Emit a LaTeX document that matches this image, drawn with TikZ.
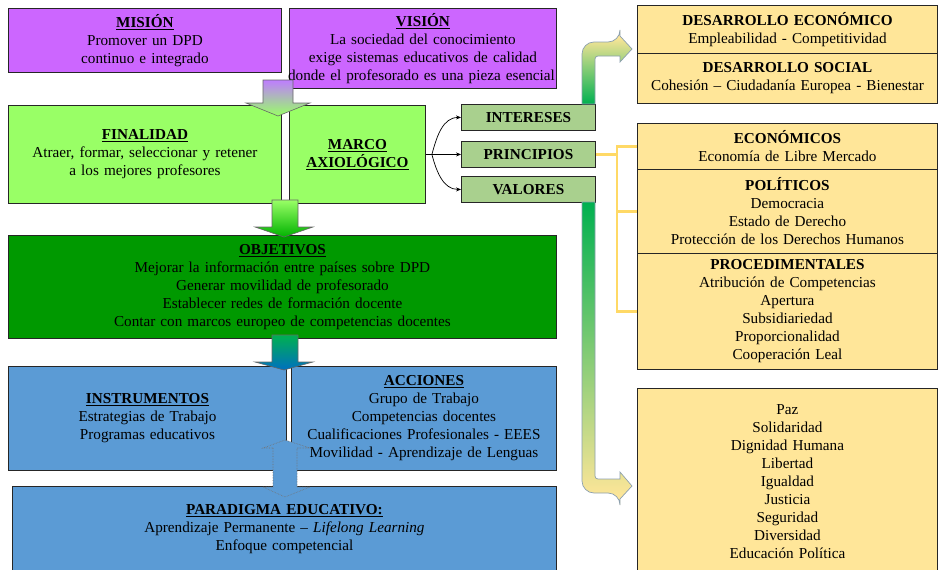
\documentclass[tikz,border=0pt]{standalone}
\usepackage{fontspec}
\setmainfont{Liberation Serif}
\usetikzlibrary{arrows.meta, positioning}

\definecolor{misionviolet}{RGB}{204,102,255}
\definecolor{lightgreen}{RGB}{153,255,102}
\definecolor{axiogreen}{RGB}{169,208,142}
\definecolor{objgreen}{RGB}{0,153,0}
\definecolor{acblue}{RGB}{91,155,213}
\definecolor{paleyellow}{RGB}{255,230,153}
\definecolor{goldline}{RGB}{255,217,102}
\definecolor{arrowgreen}{RGB}{0,176,80}
\definecolor{arrowblue}{RGB}{0,112,192}
\definecolor{arrowviolet}{RGB}{190,125,255}
\definecolor{arrowedge}{RGB}{140,160,175}

\newcommand{\panelfont}{\fontsize{15.2}{18}\selectfont}

\tikzset{
  panel/.style={draw=black!85, line width=0.9pt, align=center, inner sep=0pt, anchor=north west},
  tag/.style={panel, fill=axiogreen, text width=134pt, minimum height=26pt, font=\panelfont\bfseries},
  flow/.style={draw=black!60, line width=0.6pt},
  branch/.style={-{Stealth[length=5pt, width=4pt]}, line width=0.7pt},
  bracket/.style={goldline, line width=2.5pt},
}

\begin{document}
\begin{tikzpicture}[x=1pt, y=-1pt, every node/.style={font=\panelfont}]
    \useasboundingbox (0,0) rectangle (938,570);
    \clip (0,0) rectangle (938,570);

    % Left column
    \node[panel, fill=misionviolet, text width=273pt, minimum height=64pt] (mision) at (8,8)
        {\underline{\textbf{MISIÓN}}\\Promover un DPD\\continuo e integrado};
    \node[panel, fill=misionviolet, text width=267pt, minimum height=80pt] (vision) at (289,8)
        {\underline{\textbf{VISIÓN}}\\La sociedad del conocimiento\\exige sistemas educativos de calidad\\\mbox{\hspace*{-3pt}donde el profesorado es una pieza esencial}};
    \node[panel, fill=lightgreen, text width=273pt, minimum height=98pt] (finalidad) at (8,105)
        {\underline{\textbf{FINALIDAD}}\\Atraer, formar, seleccionar y retener\\a los mejores profesores};
    \node[panel, fill=lightgreen, text width=136pt, minimum height=98pt] (marco) at (289,105)
        {\underline{\textbf{MARCO}}\\\underline{\textbf{AXIOLÓGICO}}};
    \node[panel, fill=objgreen, text width=548pt, minimum height=103pt] (objetivos) at (8,235)
        {\underline{\textbf{OBJETIVOS}}\\Mejorar la información entre países sobre DPD\\Generar movilidad de profesorado\\Establecer redes de formación docente\\Contar con marcos europeo de competencias docentes};
    \node[panel, fill=acblue, text width=278pt, minimum height=104pt] (instrumentos) at (8,366)
        {\underline{\textbf{INSTRUMENTOS}}\\Estrategias de Trabajo\\Programas educativos};
    \node[panel, fill=acblue, text width=265pt, minimum height=104pt] (acciones) at (291,366)
        {\underline{\textbf{ACCIONES}}\\Grupo de Trabajo\\Competencias docentes\\Cualificaciones Profesionales - EEES\\Movilidad - Aprendizaje de Lenguas};
    \node[panel, fill=acblue, text width=544pt, minimum height=86pt] (paradigma) at (12,486)
        {\underline{\textbf{PARADIGMA EDUCATIVO:}}\\Aprendizaje Permanente -- \textit{Lifelong Learning}\\Enfoque competencial};

    % Axiological tags
    \node[tag] (intereses) at (461,104) {INTERESES};
    \node[tag] (principios) at (461,141) {PRINCIPIOS};
    \node[tag] (valores) at (461,176) {VALORES};

    % Right column
    \node[panel, fill=paleyellow, text width=300pt, minimum height=48pt] (deseco) at (637,5)
        {\textbf{DESARROLLO ECONÓMICO}\\Empleabilidad - Competitividad};
    \node[panel, fill=paleyellow, text width=300pt, minimum height=50pt] (dessoc) at (637,53)
        {\textbf{DESARROLLO SOCIAL}\\Cohesión -- Ciudadanía Europea - Bienestar};
    \node[panel, fill=paleyellow, text width=300pt, minimum height=46pt] (economicos) at (637,123)
        {\textbf{ECONÓMICOS}\\Economía de Libre Mercado};
    \node[panel, fill=paleyellow, text width=300pt, minimum height=84pt] (politicos) at (637,169)
        {\textbf{POLÍTICOS}\\Democracia\\Estado de Derecho\\Protección de los Derechos Humanos};
    \node[panel, fill=paleyellow, text width=300pt, minimum height=116pt] (procedimentales) at (637,253)
        {\textbf{PROCEDIMENTALES}\\Atribución de Competencias\\Apertura\\Subsidiariedad\\Proporcionalidad\\Cooperación Leal};
    \node[panel, fill=paleyellow, text width=300pt, minimum height=186pt] (valoreslist) at (637,388)
        {Paz\\Solidaridad\\Dignidad Humana\\Libertad\\Igualdad\\Justicia\\Seguridad\\Diversidad\\Educación Política};

    % Down arrows
    \shadedraw[flow, top color=arrowviolet, middle color=arrowviolet!45!lightgreen, bottom color=lightgreen]
        (263,80) -- (263,103) -- (246,103) -- (278,116) -- (310,103) -- (293,103) -- (293,80) -- cycle;
    \shadedraw[flow, top color=lightgreen, bottom color=green!70!black]
        (272,200) -- (272,227) -- (255,227) -- (284,237) -- (313,227) -- (298,227) -- (298,200) -- cycle;
    \shadedraw[flow, top color=arrowgreen, middle color=arrowgreen!50!arrowblue, bottom color=arrowblue]
        (272,335) -- (272,362) -- (255,362) -- (284,370) -- (313,362) -- (298,362) -- (298,335) -- cycle;

    % Two-way arrow
    \filldraw[fill=acblue, draw=black!55, densely dotted, line width=0.6pt]
        (273,448) -- (263,448) -- (285,440) -- (310,448) -- (297,448) -- (297,487)
        -- (310,487) -- (285,497) -- (263,487) -- (273,487) -- cycle;

    % Branches of the axiological frame
    \coordinate (fork) at ([xshift=6pt]marco.east);
    \draw[line width=0.7pt] (marco.east) -- (fork);
    \draw[branch] (fork) to[out=75, in=180] (intereses.west);
    \draw[branch] (fork) -- (principios.west);
    \draw[branch] (fork) to[out=-75, in=180] (valores.west);

    % Principles bracket
    \coordinate (brk) at (617,0);
    \draw[bracket] (principios.east) -- (principios.east -| brk);
    \draw[bracket] (economicos.west) -- (economicos.west -| brk) -- (procedimentales.west -| brk) -- (procedimentales.west);
    \draw[bracket] (politicos.west -| brk) -- (politicos.west);

    % Elbow arrows
    \shadedraw[draw=arrowedge, line width=0.7pt, top color=paleyellow, middle color=paleyellow, bottom color=arrowgreen]
        (582,104) [rounded corners=12pt] -- (582,42) -- (620,42) [sharp corners] -- (620,36) -- (632,49)
        -- (620,62) -- (620,56) [rounded corners=3pt] -- (595,56) [sharp corners] -- (595,104) -- cycle;
    \shadedraw[draw=arrowedge, line width=0.7pt, top color=arrowgreen, middle color=paleyellow!60!arrowgreen, bottom color=paleyellow]
        (582,202) [rounded corners=12pt] -- (582,493) -- (620,493) [sharp corners] -- (620,499) -- (632,486)
        -- (620,472) -- (620,479) [rounded corners=3pt] -- (595,479) [sharp corners] -- (595,202) -- cycle;
\end{tikzpicture}
\end{document}
